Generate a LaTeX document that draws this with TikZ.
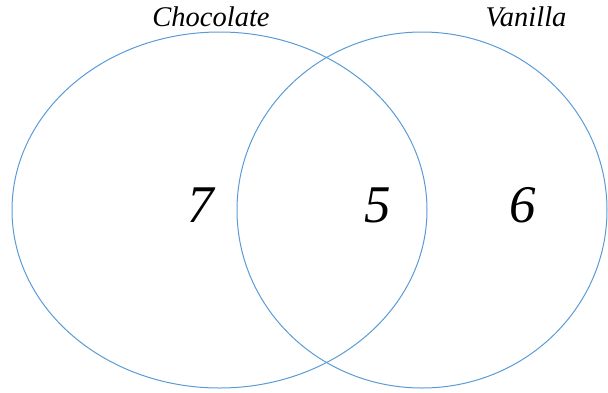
\documentclass[tikz,border=0pt]{standalone}
\usepackage{fontspec}
\setmainfont{Liberation Serif}
\definecolor{venn}{RGB}{91,155,213}
\begin{document}
\begin{tikzpicture}[x=1pt,y=-1pt,
  setline/.style={draw=venn,line width=1pt},
  setlabel/.style={font=\fontsize{28.5}{30}\selectfont\itshape,anchor=base,inner sep=0pt},
  count/.style={font=\fontsize{53}{56}\selectfont\itshape,anchor=base,inner sep=0pt}]
\useasboundingbox (0,0) rectangle (608,392);
\draw[setline] (219.5,210) ellipse [x radius=207.5pt, y radius=178pt];
\draw[setline] (422,210) ellipse [x radius=185pt, y radius=178pt];
\node[setlabel] (choc) at (211,26) {Chocolate};
\node[setlabel] (van) at (526,26) {Vanilla};
\node[count] (n7) at (201,222) {7};
\node[count] (n5) at (378,222) {5};
\node[count] (n6) at (523,222) {6};
\end{tikzpicture}
\end{document}
